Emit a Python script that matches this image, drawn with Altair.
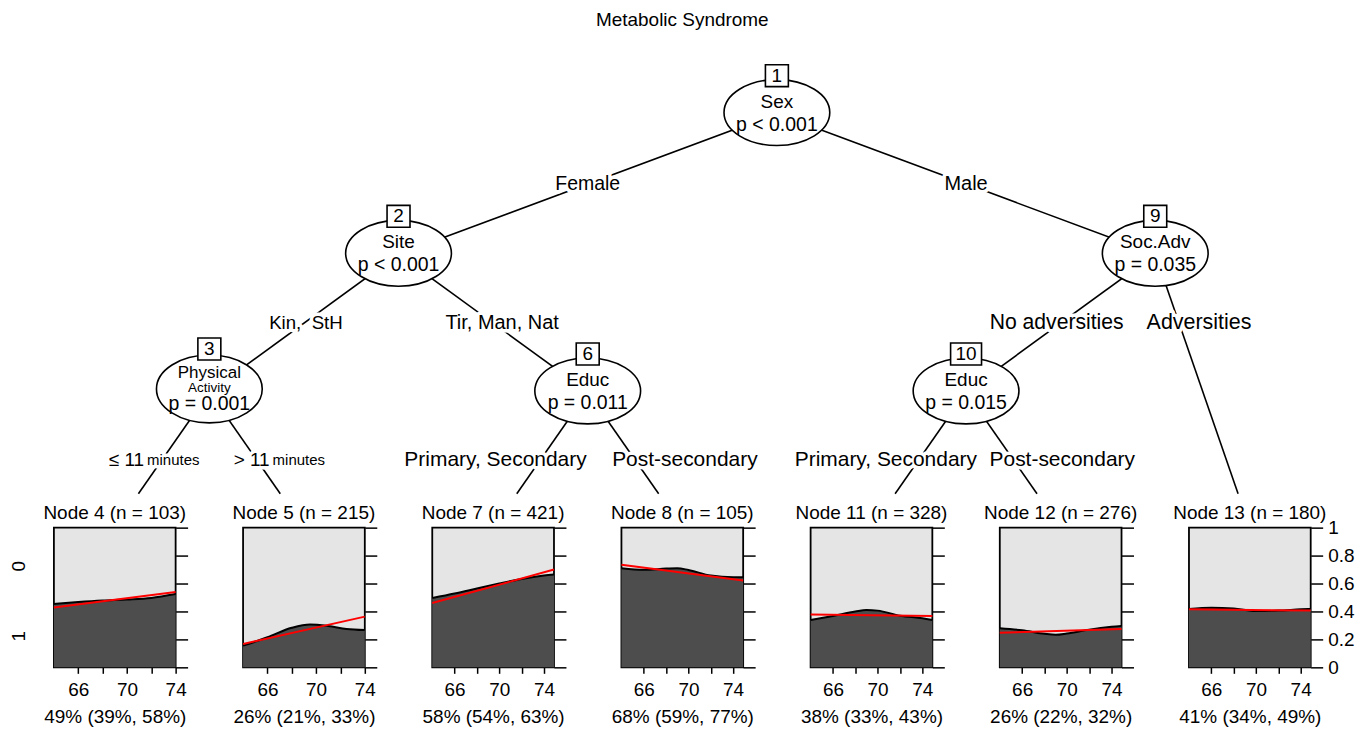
import altair as alt
import pandas as pd

FONT = "Liberation Sans"
DARK = "#4d4d4d"
LIGHT = "#e5e5e5"

# ---------------------------------------------------------------- data
TITLE = "Metabolic Syndrome"

inner_ids = [1, 2, 9, 3, 6, 10]
inner_var = [["Sex"], ["Site"], ["Soc.Adv"], ["Physical", "Activity"], ["Educ"], ["Educ"]]
inner_p = ["p < 0.001", "p < 0.001", "p = 0.035", "p = 0.001", "p = 0.011", "p = 0.015"]

edge_parent = [1, 1, 2, 2, 9, 9, 3, 3, 6, 6, 10, 10]
edge_child = [2, 9, 3, 6, 10, 13, 4, 5, 7, 8, 11, 12]
edge_label = ["Female", "Male", "Kin,\u00a0 StH", "Tir, Man, Nat", "No adversities",
              "Adversities", "\u2264 11", "> 11", "Primary, Secondary", "Post-secondary",
              "Primary, Secondary", "Post-secondary"]
edge_suffix = ["", "", "", "", "", "", "minutes", "minutes", "", "", "", ""]

leaf_ids = [4, 5, 7, 8, 11, 12, 13]
leaf_n = [103, 215, 421, 105, 328, 276, 180]
leaf_summary = ["49% (39%, 58%)", "26% (21%, 33%)", "58% (54%, 63%)", "68% (59%, 77%)",
                "38% (33%, 43%)", "26% (22%, 32%)", "41% (34%, 49%)"]
age_min = 64
age_max = [74, 74, 74.9, 74.9, 74.9, 74.9, 74.9]
age_ticks = [66, 68, 70, 72, 74]
prob_ticks = [0, 0.2, 0.4, 0.6, 0.8, 1]
class_labels = ["0", "1"]

curve_age = [
    [64, 66, 68, 70, 72, 74],
    [64, 66, 68, 69.5, 71, 72.5, 74],
    [64, 66, 68, 70, 72, 74, 74.9],
    [64, 66, 68, 69, 70, 72, 74, 74.9],
    [64, 66, 68, 69, 70, 72, 74, 74.9],
    [64, 66, 68, 69, 70, 72, 74, 74.9],
    [64, 66, 68, 70, 72, 74, 74.9],
]
curve_p = [
    [0.454, 0.468, 0.479, 0.486, 0.497, 0.525],
    [0.155, 0.215, 0.283, 0.307, 0.296, 0.275, 0.267],
    [0.496, 0.528, 0.564, 0.600, 0.633, 0.657, 0.664],
    [0.710, 0.698, 0.707, 0.710, 0.697, 0.657, 0.645, 0.645],
    [0.339, 0.368, 0.399, 0.410, 0.406, 0.370, 0.351, 0.339],
    [0.279, 0.265, 0.240, 0.233, 0.242, 0.270, 0.290, 0.296],
    [0.418, 0.427, 0.422, 0.403, 0.406, 0.415, 0.418],
]
fit_p = [
    [0.428, 0.539], [0.167, 0.363], [0.460, 0.700], [0.734, 0.621],
    [0.379, 0.368], [0.248, 0.274], [0.415, 0.406],
]

# ---------------------------------------------------------------- layout constants
PAGE_TOP = 8
PANEL_W, PANEL_H = 122, 140
STEP = 189.6
PANEL_GAP = STEP - PANEL_W
PANEL1_LEFT = 52
LEAF1_CX = PANEL1_LEFT + PANEL_W / 2
TREE_LEFT, TREE_RIGHT = 52, 1320
TREE_W = TREE_RIGHT - TREE_LEFT
LEAF_CUT = 493
TREE_H = LEAF_CUT - PAGE_TOP
U0 = 1 - (LEAF1_CX - TREE_LEFT) / STEP
U1 = U0 + TREE_W / STEP
LEVEL = [112, 253, 391, 527]
ELL_W = 106
LABEL_NUDGE = [0, 0, 2, 9, -4, 20, -10, 21, -45, 50, -33, 49]
EDGE_FS = [19.5, 20, 18.7, 20, 21.2, 21.5, 19, 19, 21, 21, 21, 21]
NODE_FS = 19


def ty(page_y):
    return page_y - PAGE_TOP


# ---------------------------------------------------------------- tree geometry from structure
kids = {}
for p, c in zip(edge_parent, edge_child):
    kids.setdefault(p, []).append(c)


def leaves_under(n):
    if n not in kids:
        return [n]
    out = []
    for c in kids[n]:
        out += leaves_under(c)
    return out


leaf_u = {nid: i + 1 for i, nid in enumerate(leaf_ids)}


def node_u(n):
    if n not in kids:
        return leaf_u[n]
    first = leaves_under(n)[0]
    return leaf_u[first] + len(leaves_under(kids[n][0])) - 0.5


depth = {1: 0}
queue = [1]
while queue:
    n = queue.pop(0)
    for c in kids.get(n, []):
        depth[c] = depth[n] + 1
        queue.append(c)

edge_rows, lab_c, lab_a, lab_b = [], [], [], []
for k, (p, c) in enumerate(zip(edge_parent, edge_child)):
    pu, py = node_u(p), LEVEL[depth[p]]
    if c in kids:
        tu, tyy = node_u(c), LEVEL[depth[c]]
        eu, ey = tu, tyy
    else:
        tu, tyy = node_u(c), LEVEL[-1]
        t = (LEAF_CUT - py) / (tyy - py)
        eu, ey = pu + t * (tu - pu), LEAF_CUT
    edge_rows.append({"u": pu, "y": ty(py), "u2": eu, "y2": ty(ey)})
    ly = (LEVEL[depth[p]] + LEVEL[depth[p] + 1]) / 2
    t = (ly - py) / (tyy - py)
    lu = pu + t * (tu - pu) + LABEL_NUDGE[k] / STEP
    if edge_suffix[k]:
        lab_a.append({"u": lu, "y": ty(ly), "t": edge_label[k], "fs": EDGE_FS[k]})
        lab_b.append({"u": lu, "y": ty(ly), "t": edge_suffix[k], "fs": 15})
    else:
        lab_c.append({"u": lu, "y": ty(ly), "t": edge_label[k], "fs": EDGE_FS[k]})


def ellipse_path(r):
    k = 0.5523
    return (f"M1,0 C1,{k*r:.4f} {k},{r:.4f} 0,{r:.4f} C{-k},{r:.4f} -1,{k*r:.4f} -1,0 "
            f"C-1,{-k*r:.4f} {-k},{-r:.4f} 0,{-r:.4f} C{k},{-r:.4f} 1,{-k*r:.4f} 1,0 Z")


def rect_path(r):
    return f"M-1,{-r:.4f} L1,{-r:.4f} L1,{r:.4f} L-1,{r:.4f} Z"


ell_rows, ntext_rows, box_rows, boxnum_rows = [], [], [], []
for nid, names, pv in zip(inner_ids, inner_var, inner_p):
    u = node_u(nid)
    cy = LEVEL[depth[nid]]
    if len(names) == 1:
        ecy, eh, boxy = cy - 1, 66, cy - 38
        lines = [(names[0], -12, NODE_FS), (pv, 11, NODE_FS + 0.5)]
    else:
        ecy, eh, boxy = cy - 3, 68, cy - 43
        lines = [(names[0], -19, 17), (names[1], -4, 13.5), (pv, 12, NODE_FS + 0.5)]
    ell_rows.append({"u": u, "y": ty(ecy), "shape": ellipse_path(eh / ELL_W), "sz": ELL_W ** 2})
    for txt, dy, fs in lines:
        ntext_rows.append({"u": u, "y": ty(cy + dy), "t": txt, "fs": fs})
    bw = 15 + 8 * len(str(nid))
    box_rows.append({"u": u, "y": ty(boxy), "shape": rect_path(22 / bw), "sz": bw ** 2})
    boxnum_rows.append({"u": u, "y": ty(boxy), "t": str(nid), "fs": NODE_FS})

title_rows = [{"u": (1 + len(leaf_ids)) / 2, "y": ty(9), "t": TITLE, "fs": 19}]

# ---------------------------------------------------------------- tree chart
xenc = alt.X("u:Q", scale=alt.Scale(domain=[U0, U1], nice=False, zero=False), axis=None)
yenc = alt.Y("y:Q", scale=alt.Scale(domain=[0, TREE_H], reverse=True, nice=False, zero=False), axis=None)
sz = alt.Size("fs:Q", scale=None)


def text_layer(rows, halo=False, baseline="middle", **kw):
    props = dict(font=FONT, baseline=baseline, **kw)
    if halo:
        props.update(fill="white", stroke="white", strokeWidth=7, strokeJoin="round")
    else:
        props.update(color="black")
    return alt.Chart(pd.DataFrame(rows)).mark_text(**props).encode(
        x=xenc, y=yenc, text="t:N", size=sz)


edges = alt.Chart(pd.DataFrame(edge_rows)).mark_rule(color="black", strokeWidth=1.6).encode(
    x=xenc, y=yenc, x2=alt.X2("u2"), y2=alt.Y2("y2"))

ellipses = alt.Chart(pd.DataFrame(ell_rows)).mark_point(
    filled=True, fill="white", stroke="black", strokeWidth=1.6, opacity=1).encode(
    x=xenc, y=yenc, shape=alt.Shape("shape:N", scale=None), size=alt.Size("sz:Q", scale=None))

boxes = alt.Chart(pd.DataFrame(box_rows)).mark_point(
    filled=True, fill="white", stroke="black", strokeWidth=1.6, opacity=1).encode(
    x=xenc, y=yenc, shape=alt.Shape("shape:N", scale=None), size=alt.Size("sz:Q", scale=None))

tree = alt.layer(
    edges,
    text_layer(lab_c, halo=True, align="center"),
    text_layer(lab_a, halo=True, align="right", dx=-8),
    text_layer(lab_b, halo=True, align="left", dx=-5),
    text_layer(lab_c, align="center"),
    text_layer(lab_a, align="right", dx=-8),
    text_layer(lab_b, align="left", dx=-5),
    ellipses,
    text_layer(ntext_rows, align="center"),
    boxes,
    text_layer(boxnum_rows, align="center"),
    text_layer(title_rows, align="center", baseline="top"),
).properties(width=TREE_W, height=TREE_H, view=alt.ViewBackground(stroke="transparent"))


# ---------------------------------------------------------------- leaf panels
def make_panel(i):
    first, last = i == 0, i == len(leaf_ids) - 1
    amax = age_max[i]
    cur = pd.DataFrame({"age": curve_age[i], "p": curve_p[i]})
    fit = pd.DataFrame({"age": [age_min, amax], "p": fit_p[i]})
    xs = alt.Scale(domain=[age_min, amax], nice=False, zero=False)
    ys = alt.Scale(domain=[0, 1], nice=False, zero=False)

    def x_axis():
        return alt.Axis(values=age_ticks, format="d",
                        labelExpr="datum.value % 4 == 2 ? datum.label : ''",
                        tickSize=6, tickWidth=1.5, tickColor="black", domain=False, grid=False,
                        labelFontSize=19, labelColor="black", labelPadding=7,
                        labelFlush=False, labelOverlap=False,
                        title=leaf_summary[i], titleFontSize=19, titleFontWeight="normal",
                        titleColor="black", titlePadding=8)

    right_axis = alt.Axis(orient="right", values=prob_ticks, format="~g",
                          tickSize=12, tickWidth=1.5, tickColor="black", domain=False, grid=False,
                          labels=last, labelFontSize=19, labelColor="black", labelPadding=5,
                          labelFlush=False, labelOverlap=False, title=None)
    area = alt.Chart(cur).mark_area(color=DARK, opacity=1, interpolate="monotone").encode(
        x=alt.X("age:Q", scale=xs, axis=x_axis()),
        y=alt.Y("p:Q", scale=ys, axis=right_axis))
    if first:
        p0 = curve_p[i][0]
        left_axis = alt.Axis(orient="left", values=[(1 + p0) / 2, p0 / 2],
                             labelExpr=f"datum.value > {p0} ? '{class_labels[0]}' : '{class_labels[1]}'",
                             ticks=False, tickSize=0, domain=False, grid=False,
                             labelAngle=270, labelAlign="center", labelBaseline="middle",
                             labelPadding=35.5, labelFontSize=19, labelColor="black",
                             labelFlush=False, labelOverlap=False, title=None)
        ly = alt.Y("p:Q", scale=ys, axis=left_axis)
    else:
        ly = alt.Y("p:Q", scale=ys, axis=None)
    line = alt.Chart(cur).mark_line(color="black", strokeWidth=2, interpolate="monotone").encode(
        x=alt.X("age:Q", scale=xs, axis=x_axis()), y=ly)
    red = alt.Chart(fit).mark_line(color="red", strokeWidth=2).encode(
        x=alt.X("age:Q", scale=xs, axis=x_axis()),
        y=alt.Y("p:Q", scale=ys, axis=None))
    return alt.layer(area, line, red).resolve_scale(y="independent").properties(
        width=PANEL_W, height=PANEL_H,
        title=alt.TitleParams(text=f"Node {leaf_ids[i]} (n = {leaf_n[i]})", fontSize=19,
                              fontWeight="normal", color="black",
                              offset=(-4 if last else 4), anchor="middle", font=FONT),
        view=alt.ViewBackground(fill=LIGHT, stroke="black", strokeWidth=1.8))


row = alt.hconcat(*[make_panel(i) for i in range(len(leaf_ids))],
                  spacing=PANEL_GAP, bounds="flush")

chart = alt.vconcat(tree, row, spacing=7).properties(
    padding={"left": 0, "top": 0, "right": 0, "bottom": 0}, background="white"
).configure(font=FONT)

chart.save("out.html", embed_options={"renderer": "svg", "actions": False})
